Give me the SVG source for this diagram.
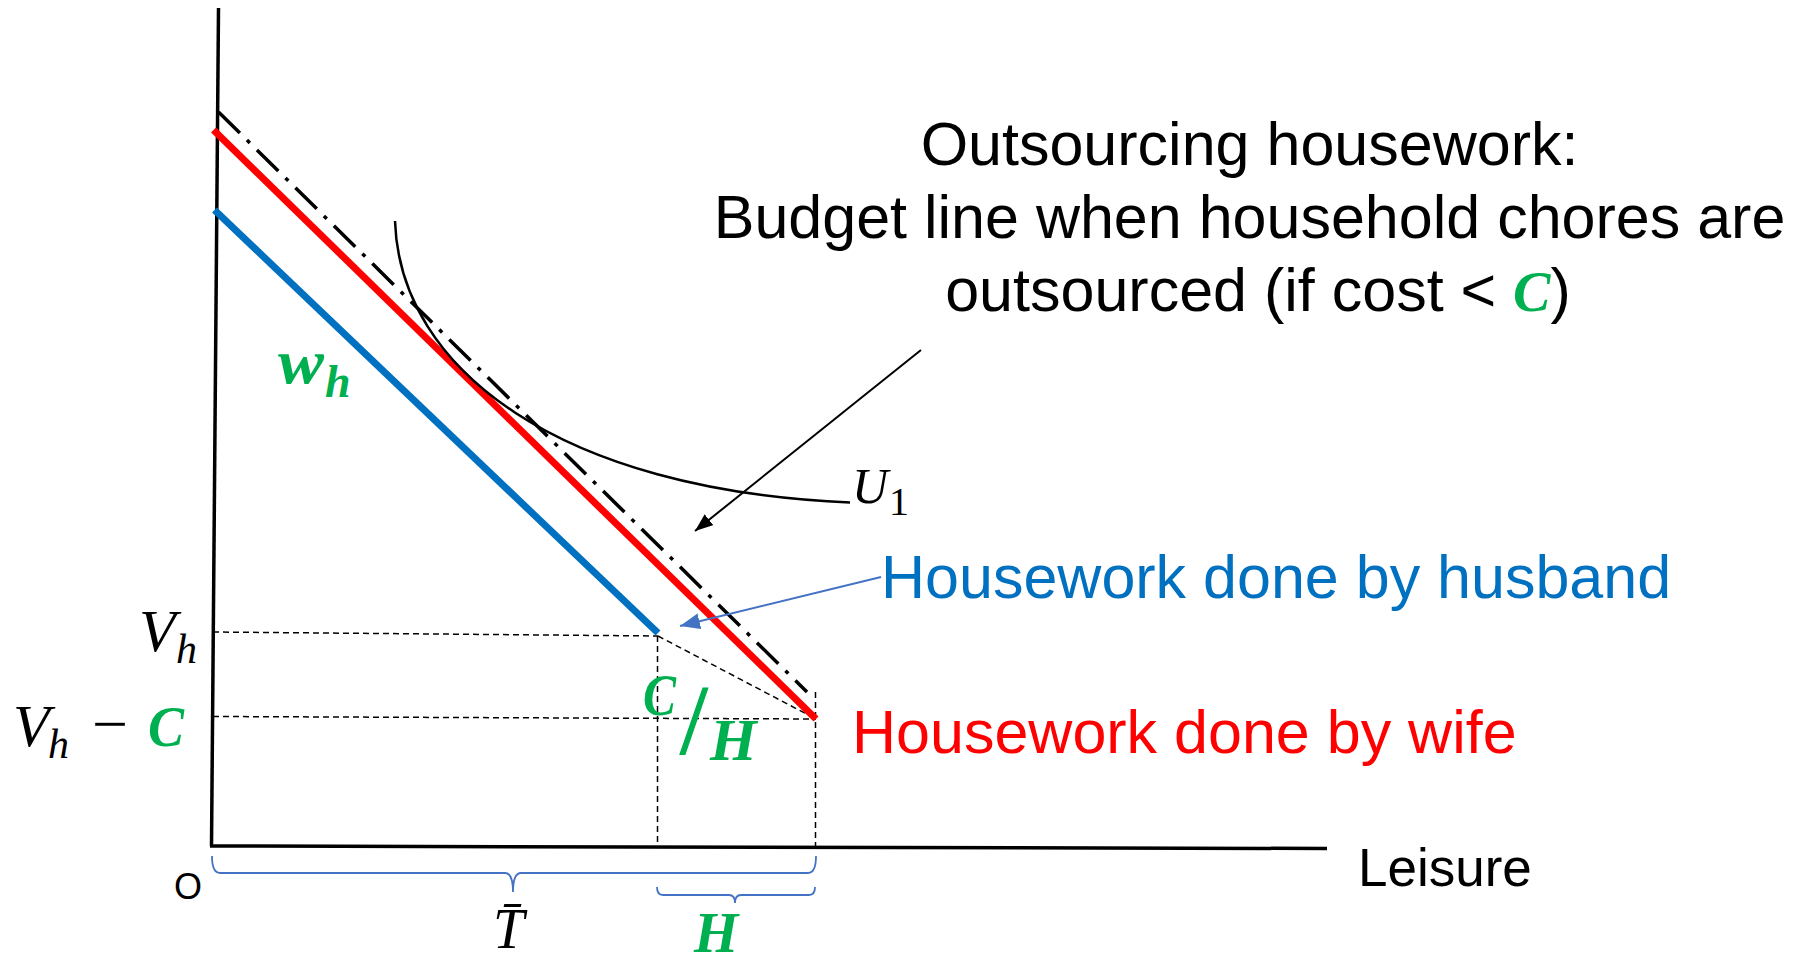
<svg xmlns="http://www.w3.org/2000/svg" width="1815" height="962" viewBox="0 0 1815 962">
<defs>
<style>
.sans{font-family:"Liberation Sans",Arial,sans-serif}
.serif{font-family:"Liberation Serif","Times New Roman",serif}
.mi{font-family:"Liberation Serif","Times New Roman",serif;font-style:italic}
.mb{font-family:"Liberation Serif","Times New Roman",serif;font-style:italic;font-weight:bold;fill:#00B050}
.dash{fill:none;stroke:#000;stroke-width:1.5;stroke-dasharray:6 4}
.brace{fill:none;stroke:#4472C4;stroke-width:1.8}
</style>
<marker id="ahBlack" markerUnits="userSpaceOnUse" markerWidth="20" markerHeight="16" refX="18" refY="7" orient="auto">
<path d="M0,0 L18,7 L0,14 z" fill="#000"/>
</marker>
<marker id="ahBlue" markerUnits="userSpaceOnUse" markerWidth="22" markerHeight="18" refX="20" refY="8" orient="auto">
<path d="M0,0 L20,8 L0,16 z" fill="#4472C4"/>
</marker>
</defs>
<rect width="1815" height="962" fill="#fff"/>

<g id="axes">
<line x1="218.5" y1="8" x2="211.5" y2="846" stroke="#000" stroke-width="3.5"/>
<line x1="210" y1="846" x2="1327" y2="848.5" stroke="#000" stroke-width="3.5"/>
</g>

<g id="guides">
<line class="dash" x1="213" y1="632" x2="658" y2="636"/>
<line class="dash" x1="213" y1="716.5" x2="816" y2="719"/>
<line class="dash" x1="658" y1="636" x2="816" y2="719"/>
<line class="dash" x1="657.5" y1="636" x2="657.5" y2="846"/>
<line class="dash" x1="815.5" y1="692" x2="815.5" y2="847"/>
</g>

<g id="budget-outsourced">
<line x1="218.5" y1="112" x2="807" y2="692" stroke="#000" stroke-width="3.5" stroke-dasharray="30 10 4 10"/>
</g>
<g id="budget-wife">
<line x1="213.5" y1="130" x2="816" y2="719" stroke="#FF0000" stroke-width="7"/>
</g>
<g id="budget-husband">
<line x1="214.5" y1="210" x2="658" y2="633" stroke="#0070C0" stroke-width="7"/>
</g>

<g id="indifference-curve">
<path d="M395,221 C400,370 560,490 850,502.5" fill="none" stroke="#000" stroke-width="2.5"/>
<text class="mi" x="852" y="503" font-size="50">U</text>
<text class="serif" x="889" y="515" font-size="40">1</text>
</g>

<g id="braces">
<path class="brace" d="M212,856 Q212,873 220,873 L505,873 Q513,873 513,892 Q513,873 521,873 L808,873 Q816,873 816,856"/>
<path class="brace" d="M657,887 Q657,895 663,895 L729,895 Q735,895 735,903 Q735,895 741,895 L809,895 Q815,895 815,887"/>
</g>

<g id="connectors">
<line x1="921" y1="350" x2="695" y2="531" stroke="#000" stroke-width="2" marker-end="url(#ahBlack)"/>
<line x1="881" y1="577" x2="680" y2="626" stroke="#4472C4" stroke-width="2" marker-end="url(#ahBlue)"/>
</g>

<g id="label-title">
<text class="sans" font-size="61" text-anchor="middle">
<tspan x="1258" y="165">Outsourcing housework:</tspan>
<tspan x="1258" y="238">Budget line when household chores are</tspan>
<tspan x="1258" y="311">outsourced (if cost &lt; <tspan class="mb" font-size="56">C</tspan>)</tspan>
</text>
</g>

<g id="label-husband">
<text class="sans" x="881" y="598" font-size="61" fill="#0070C0">Housework done by husband</text>
</g>
<g id="label-wife">
<text class="sans" x="852" y="753" font-size="61" fill="#FF0000">Housework done by wife</text>
</g>
<g id="label-leisure">
<text class="sans" x="1358" y="886" font-size="53">Leisure</text>
</g>
<g id="label-origin">
<text class="sans" x="174" y="899" font-size="36">O</text>
</g>

<g id="label-wh">
<text class="mb" x="278" y="383" font-size="64" textLength="46" lengthAdjust="spacingAndGlyphs">w</text>
<text class="mb" x="325" y="397" font-size="46">h</text>
</g>
<g id="label-vh">
<text class="mi" x="139" y="651" font-size="60">V</text>
<text class="mi" x="176" y="663" font-size="42">h</text>
</g>
<g id="label-vhc">
<text class="mi" x="13" y="746" font-size="60">V</text>
<text class="mi" x="48" y="758" font-size="42">h</text>
<text class="serif" x="92" y="744" font-size="60" textLength="36" lengthAdjust="spacingAndGlyphs">−</text>
<text class="mb" x="148" y="746" font-size="58" textLength="36" lengthAdjust="spacingAndGlyphs">C</text>
</g>
<g id="label-ch">
<text class="mb" x="643" y="715" font-size="60" textLength="33" lengthAdjust="spacingAndGlyphs">C</text>
<text class="serif" x="680" y="753" font-size="100" fill="#00B050" stroke="#00B050" stroke-width="1.2">/</text>
<text class="mb" x="710" y="760" font-size="60">H</text>
</g>
<g id="label-tbar">
<text class="mi" x="493" y="948" font-size="56">T&#x304;</text>
</g>
<g id="label-h">
<text class="mb" x="694" y="952" font-size="57">H</text>
</g>
</svg>
